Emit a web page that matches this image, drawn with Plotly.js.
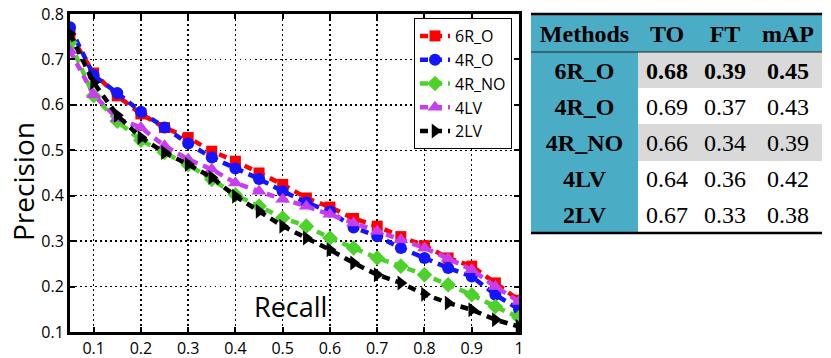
<!DOCTYPE html>
<html>
<head>
<meta charset="utf-8">
<script src="https://cdn.plot.ly/plotly-3.0.1.min.js"></script>
<style>html,body{margin:0;padding:0;background:#fff;}#chart{width:831px;height:358px;}</style>
</head>
<body>
<div id="chart"></div>
<script>
// ---- data ----
const recall = [0.05, 0.10, 0.15, 0.20, 0.25, 0.30, 0.35, 0.40, 0.45, 0.50, 0.55, 0.60, 0.65, 0.70, 0.75, 0.80, 0.85, 0.90, 0.95, 1.00];
const p6R_O  = [0.755, 0.670, 0.620, 0.580, 0.550, 0.528, 0.498, 0.476, 0.450, 0.425, 0.395, 0.375, 0.350, 0.333, 0.310, 0.290, 0.263, 0.245, 0.208, 0.170];
const p4R_O  = [0.771, 0.665, 0.626, 0.585, 0.550, 0.515, 0.484, 0.460, 0.437, 0.410, 0.385, 0.365, 0.330, 0.311, 0.285, 0.263, 0.241, 0.222, 0.182, 0.150];
const p4R_NO = [0.737, 0.620, 0.564, 0.522, 0.495, 0.468, 0.436, 0.402, 0.377, 0.351, 0.333, 0.307, 0.285, 0.263, 0.245, 0.226, 0.204, 0.182, 0.156, 0.132];
const p4LV   = [0.719, 0.622, 0.570, 0.550, 0.510, 0.480, 0.458, 0.428, 0.410, 0.392, 0.377, 0.359, 0.340, 0.322, 0.303, 0.285, 0.262, 0.237, 0.200, 0.167];
const p2LV   = [0.756, 0.649, 0.577, 0.528, 0.495, 0.469, 0.440, 0.399, 0.366, 0.333, 0.307, 0.281, 0.252, 0.226, 0.208, 0.183, 0.164, 0.149, 0.127, 0.112];

const seriesNames = ['6R_O', '4R_O', '4R_NO', '4LV', '2LV'];
const xTickVals = [0.1, 0.2, 0.3, 0.4, 0.5, 0.6, 0.7, 0.8, 0.9, 1.0];
const xTickText = ['0.1', '0.2', '0.3', '0.4', '0.5', '0.6', '0.7', '0.8', '0.9', '1'];
const yTickVals = [0.1, 0.2, 0.3, 0.4, 0.5, 0.6, 0.7, 0.8];

// table content
const tableHeader = ['Methods', 'TO', 'FT', 'mAP'];
const tableMethods = ['6R_O', '4R_O', '4R_NO', '4LV', '2LV'];
const tableTO  = ['0.68', '0.69', '0.66', '0.64', '0.67'];
const tableFT  = ['0.39', '0.37', '0.34', '0.36', '0.33'];
const tableMAP = ['0.45', '0.43', '0.39', '0.42', '0.38'];
const boldRow = 0; // best method row shown in bold

// ---- styles / geometry ----
const W = 831, H = 358;
const colors = ['#ff0000', '#1414ff', '#4cd22a', '#c83cf2', '#000000'];
const symbols = ['square', 'circle', 'diamond', 'triangle-up', 'triangle-right'];
const sizes = [11, 12, 12, 13, 13];
const ys = [p6R_O, p4R_O, p4R_NO, p4LV, p2LV];

const traces = ys.map((y, i) => ({
  type: 'scatter', mode: 'lines+markers',
  x: recall, y: y, name: seriesNames[i],
  line: {color: colors[i], width: 4.5, dash: '8px,6px'},
  marker: {color: colors[i], symbol: symbols[i], size: sizes[i], line: {width: 0}},
  xaxis: 'x', yaxis: 'y'
}));

// table geometry (pixel units of the table's own axes)
const colEdges = [0, 107, 165, 223, 291];
const rowEdges = [14, 52, 88.2, 124.4, 160.6, 196.8, 233];
const textDy = 2.5;
const teal = '#4bacc6', gray = '#d9d9d9', white = '#ffffff';
// fill category per cell: 0 teal, 1 gray, 2 white
const rowShade = [1, 2, 1, 2, 2];
const fillZ = [[0, 0, 0, 0]].concat(rowShade.map(s => [0, s, s, s]));
traces.push({
  type: 'heatmap', x: colEdges, y: rowEdges, z: fillZ,
  zmin: 0, zmax: 2, showscale: false, hoverinfo: 'skip',
  colorscale: [[0, teal], [0.5, gray], [1, white]],
  xaxis: 'x2', yaxis: 'y2'
});

const bold = s => '<b>' + s + '</b>';
const tx = [], ty = [], tt = [];
const colCenter = c => (colEdges[c] + colEdges[c + 1]) / 2;
const rowCenter = r => (rowEdges[r] + rowEdges[r + 1]) / 2 + textDy;
tableHeader.forEach((h, c) => { tx.push(colCenter(c)); ty.push(rowCenter(0)); tt.push(bold(h)); });
const cols = [tableMethods, tableTO, tableFT, tableMAP];
cols.forEach((col, c) => col.forEach((v, r) => {
  tx.push(colCenter(c)); ty.push(rowCenter(r + 1));
  tt.push(c === 0 || r === boldRow ? bold(v) : v);
}));
traces.push({
  type: 'scatter', mode: 'text', x: tx, y: ty, text: tt,
  textposition: 'middle center', hoverinfo: 'skip', showlegend: false,
  textfont: {family: 'Liberation Serif', size: 24, color: '#000'},
  xaxis: 'x2', yaxis: 'y2'
});

const axisCommon = {
  showline: true, linewidth: 3, linecolor: '#000', mirror: 'ticks',
  ticks: 'inside', ticklen: 5, tickwidth: 2, tickcolor: '#000',
  showgrid: true, gridcolor: '#000', gridwidth: 1.5, griddash: '1.5px,3.5px',
  zeroline: false, fixedrange: true,
  tickfont: {family: 'Open Sans', size: 16, color: '#000'}
};
const hiddenAxis = {visible: false, showgrid: false, zeroline: false, fixedrange: true};

const layout = {
  width: W, height: H,
  margin: {l: 0, r: 0, t: 0, b: 0},
  paper_bgcolor: '#fff', plot_bgcolor: 'rgba(0,0,0,0)',
  showlegend: true,
  xaxis: Object.assign({}, axisCommon, {
    domain: [70 / W, 519 / W], range: [0.05, 1.0],
    tickvals: xTickVals, ticktext: xTickText, automargin: false
  }),
  yaxis: Object.assign({}, axisCommon, {
    domain: [26 / H, 1 - 14 / H], range: [0.1, 0.8],
    tickvals: yTickVals, tickformat: '.1f', automargin: false
  }),
  xaxis2: Object.assign({}, hiddenAxis, {domain: [531 / W, 822 / W], range: [0, 291], anchor: 'y2'}),
  yaxis2: Object.assign({}, hiddenAxis, {domain: [1 - 233 / H, 1 - 14 / H], range: [233, 14], anchor: 'x2'}),
  legend: {
    x: 414 / W, y: 1 - 18 / H, xanchor: 'left', yanchor: 'top',
    bgcolor: '#fff', bordercolor: '#000', borderwidth: 1,
    font: {family: 'Open Sans', size: 16, color: '#000'},
    itemwidth: 30, tracegroupgap: 0
  },
  annotations: [
    {text: 'Recall', xref: 'paper', yref: 'paper', x: 290 / W, y: 1 - 306 / H,
     xanchor: 'center', yanchor: 'middle',
     showarrow: false, font: {family: 'Open Sans', size: 27, color: '#000'}},
    {text: 'Precision', xref: 'paper', yref: 'paper', x: 23 / W, y: 1 - 182 / H,
     xanchor: 'center', yanchor: 'middle',
     textangle: -90, showarrow: false, font: {family: 'Open Sans', size: 28, color: '#000'}}
  ],
  shapes: [
    {type: 'line', xref: 'paper', yref: 'paper', x0: 531 / W, x1: 822 / W, y0: 1 - 14 / H, y1: 1 - 14 / H, line: {color: '#000', width: 2.5}},
    {type: 'line', xref: 'paper', yref: 'paper', x0: 531 / W, x1: 822 / W, y0: 1 - 52 / H, y1: 1 - 52 / H, line: {color: '#222', width: 1.2}},
    {type: 'line', xref: 'paper', yref: 'paper', x0: 531 / W, x1: 822 / W, y0: 1 - 233 / H, y1: 1 - 233 / H, line: {color: '#000', width: 2.5}}
  ]
};

Plotly.newPlot('chart', traces, layout, {displayModeBar: false, staticPlot: true});
</script>
</body>
</html>
